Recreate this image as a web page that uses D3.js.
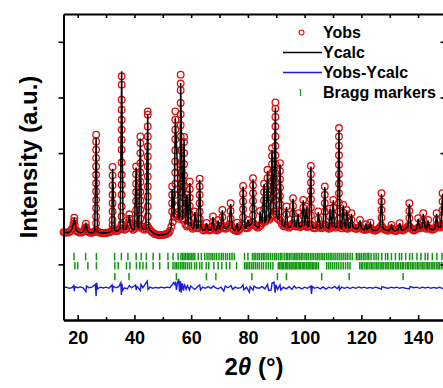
<!DOCTYPE html>
<html>
<head>
<meta charset="utf-8">
<script src="https://cdn.jsdelivr.net/npm/d3@7"></script>
<style>
  body { margin: 0; background: #fff; }
  svg { display: block; }
  text { font-family: "Liberation Sans", Arial, sans-serif; font-weight: bold; }
</style>
</head>
<body>
<div id="chart"></div>
<script>
// ---- data ----
// observed intensity between the sharp reflections, one value every 0.5 deg from 15
const scanStart = 15, scanStep = 0.5;
const valleyObs = [
  1580, 1570, 1575, 1570, 1580, 1600, 1640, 1720, 1700, 1610,
  1585, 1575, 1570, 1575, 1590, 1650, 1640, 1590, 1575, 1570,
  1570, 1575, 1590, 1620, 1590, 1575, 1570, 1565, 1565, 1570,
  1565, 1570, 1575, 1580, 1600, 1640, 1620, 1600, 1600, 1620,
  1650, 1700, 1640, 1620, 1640, 1700, 1760, 1720, 1650, 1620,
  1640, 1700, 1680, 1660, 1700, 1680, 1640, 1620, 1640, 1700,
  1660, 1620, 1590, 1570, 1550, 1540, 1535, 1530, 1530, 1530,
  1530, 1535, 1540, 1550, 1565, 1600, 1680, 1760, 1850, 1900,
  1880, 1820, 1850, 1880, 1800, 1820, 1720, 1680, 1700, 1760,
  1680, 1640, 1660, 1700, 1650, 1660, 1720, 1660, 1620, 1610,
  1630, 1660, 1620, 1610, 1620, 1680, 1650, 1620, 1610, 1620,
  1640, 1680, 1700, 1660, 1640, 1650, 1680, 1720, 1700, 1650,
  1620, 1610, 1600, 1600, 1620, 1660, 1720, 1700, 1660, 1650,
  1660, 1690, 1720, 1760, 1740, 1700, 1680, 1660, 1680, 1700,
  1740, 1780, 1760, 1800, 1820, 1800, 1840, 1880, 1900, 1950,
  1900, 1820, 1800, 1780, 1720, 1690, 1680, 1700, 1680, 1660,
  1680, 1720, 1740, 1700, 1680, 1700, 1680, 1670, 1690, 1720,
  1700, 1680, 1670, 1690, 1720, 1700, 1660, 1650, 1660, 1700,
  1690, 1660, 1650, 1680, 1720, 1690, 1660, 1640, 1650, 1680,
  1700, 1680, 1660, 1680, 1720, 1680, 1650, 1680, 1700, 1660,
  1640, 1650, 1670, 1690, 1670, 1650, 1640, 1640, 1660, 1680,
  1650, 1630, 1620, 1620, 1630, 1650, 1660, 1640, 1620, 1610,
  1610, 1620, 1640, 1670, 1700, 1660, 1630, 1620, 1610, 1610,
  1620, 1650, 1630, 1610, 1600, 1610, 1630, 1650, 1630, 1610,
  1620, 1640, 1660, 1690, 1680, 1650, 1620, 1610, 1620, 1640,
  1660, 1650, 1660, 1690, 1680, 1650, 1640, 1660, 1650, 1630,
  1620, 1630, 1660, 1700, 1680, 1660, 1680, 1720, 1690, 1660,
  1650
];

// sharp reflections: position, calculated top, observed points on the peak
const peakPos = [
  18.8, 22.9, 26.5, 32.3, 35.5, 38.2, 40.6, 42.1, 44.7, 53.3,
  54.4, 55.2, 56.3, 57.5, 58.5, 59.5, 61.3, 63.0, 65.4, 67.7,
  69.5, 71.0, 73.9, 76.2, 78.3, 80.0, 81.8, 84.3, 85.7, 86.9,
  88.5, 89.7, 91.3, 93.6, 95.9, 97.7, 99.5, 100.7, 102.2, 104.8,
  107.1, 108.9, 110.1, 112.1, 113.6, 114.8, 116.5, 119.5, 121.6, 123.2,
  127.1, 130.6, 133.5, 136.9, 140.0, 141.8, 143.5, 146.5, 148.6
];
const peakCalc = [
  1830, 1720, 3280, 2720, 4470, 1880, 2740, 3260, 3700, 2350,
  3640, 2700, 4260, 3250, 2250, 2460, 1940, 2520, 1740, 1850,
  1790, 1970, 2090, 1740, 2400, 1800, 2530, 1950, 2440, 2680,
  3060, 3820, 2800, 2030, 2180, 1910, 2150, 2030, 2760, 1940,
  2390, 1990, 2150, 3420, 2060, 1970, 1910, 1790, 1720, 1740,
  2270, 1700, 1740, 2090, 1820, 1910, 1790, 1910, 2270
];
const peakObs = [
  [1840, 1780],
  [1730, 1670],
  [3330, 3210, 3060, 2910, 2760, 2610, 2460, 2310, 2160, 2010, 1860, 1740],
  [2750, 2600, 2420, 2250, 2100, 1950, 1800, 1700],
  [4380, 4230, 3960, 3780, 3600, 3420, 3240, 3060, 2830, 2610, 2430, 2250, 2040, 1860, 1720],
  [1900, 1820],
  [2760, 2620, 2450, 2300, 2140, 1980, 1830, 1720],
  [3300, 3180, 3000, 2820, 2650, 2480, 2300, 2150, 1980, 1820],
  [3750, 3690, 3480, 3300, 3120, 2940, 2760, 2580, 2400, 2220, 2040, 1860],
  [2400, 2250, 2100, 1950],
  [3750, 3600, 3420, 3250, 3050, 2850, 2650, 2450, 2250, 2050],
  [2750, 2550, 2350],
  [4410, 4250, 4130, 3900, 3700, 3500, 3300, 3050, 2800, 2550, 2300, 2100],
  [3290, 3200, 3000, 2800, 2600, 2400, 2200, 2000],
  [2250, 2100, 1950],
  [2490, 2350, 2200, 2050, 1900],
  [1950, 1830],
  [2540, 2400, 2250, 2100, 1950, 1820],
  [1745],
  [1860, 1760],
  [1800],
  [1980, 1850],
  [2100, 1960, 1820],
  [1750],
  [2410, 2270, 2130, 1990, 1850],
  [1800],
  [2550, 2420, 2280, 2140, 2000, 1880],
  [1960],
  [2450, 2300, 2150, 2000],
  [2700, 2550, 2400, 2250, 2100],
  [3090, 2950, 2800, 2650, 2500, 2350, 2200, 2050],
  [3910, 3800, 3650, 3480, 3300, 3130, 2960, 2800, 2640, 2480, 2320, 2160],
  [2820, 2680, 2530, 2380, 2230, 2080, 1950],
  [2040, 1900],
  [2190, 2050, 1910],
  [1920],
  [2160, 2020, 1880],
  [2040, 1900],
  [2770, 2620, 2470, 2320, 2170, 2020, 1880],
  [1950, 1820],
  [2400, 2250, 2100, 1950],
  [2000, 1860],
  [2160, 2020, 1880],
  [3450, 3300, 3130, 2960, 2790, 2620, 2450, 2280, 2110, 1950, 1820],
  [2070, 1930],
  [1980, 1850],
  [1920, 1800],
  [1800],
  [1720],
  [1750],
  [2280, 2130, 1980, 1840],
  [1710],
  [1740],
  [2100, 1960, 1830],
  [1830],
  [1920, 1800],
  [1800],
  [1920, 1800],
  [2280, 2130, 1980, 1840]
];

// Yobs - Ycalc  [2theta, difference]
const diffPts = [
  [15, 0], [16, 10], [17, -10], [18, 0], [18.6, 40], [18.8, -60], [19, 20], [20, 0], [21, 15], [22, -5],
  [22.9, -70], [23.1, 30], [24, 0], [25, 10], [26.2, 60], [26.5, -150], [26.7, 90], [27, -20], [28, 10], [29, -5],
  [30, 10], [31, -10], [32.1, 50], [32.3, -80], [32.5, 30], [33.5, 0], [34.5, 20], [35.2, 90], [35.4, -130], [35.6, 70],
  [35.8, -50], [36.5, 0], [37.5, -20], [38.2, 40], [39, 0], [40.4, 50], [40.6, -40], [41, 20], [42.1, -50], [42.3, 60],
  [43, 0], [44.5, 120], [44.8, -30], [45.5, 10], [46.5, -10], [47.5, 5], [48.5, -5], [49.5, 10], [50.5, -5], [51.5, 10],
  [52.5, 0], [53.3, 50], [53.8, 90], [54.2, 60], [54.5, 110], [54.8, -40], [55.2, 90], [55.6, 160], [55.9, -70], [56.2, 120],
  [56.5, -90], [56.8, 80], [57.3, -50], [57.6, 70], [58.2, -30], [58.7, 40], [59.4, -40], [59.8, 30], [60.5, 0], [61.3, -30],
  [62, 10], [63, 50], [63.3, -40], [64, 10], [65, -10], [66, 20], [67, -10], [67.8, 30], [68.5, 0], [69.5, -20],
  [70.5, 10], [71.5, -60], [72, 30], [73, 0], [74, 40], [74.6, -30], [75.5, 10], [76.5, -10], [77.5, 0], [78.3, 50],
  [78.6, -40], [79.5, 10], [80.5, -80], [80.8, 20], [81.8, -40], [82.2, 30], [83, 0], [84, -10], [85, 20], [86, -20],
  [86.9, 60], [87.3, -50], [88.2, -40], [88.5, 80], [89.2, 100], [89.6, -90], [89.9, 50], [90.5, -30], [91.3, 50], [91.6, -40],
  [92.5, 10], [93.5, -20], [94.5, 20], [95.5, -30], [96.3, 30], [97, -10], [98, 10], [99, -20], [100, 10], [101, -10],
  [102.2, 30], [102.4, -110], [102.7, 20], [103.5, -10], [104.5, 10], [105.5, -20], [106.5, 15], [107.5, -25], [108.5, 10], [109.5, -10],
  [110.5, 20], [111.5, -15], [112.1, 30], [112.3, -40], [113, 10], [114, -10], [115, 10], [116, -15], [117, 10], [118, -10],
  [119, 15], [120, -5], [121, 10], [122, -10], [123, 5], [124, -10], [125, 10], [126, -5], [127, -25], [127.3, 20],
  [128.5, 0], [129.5, -10], [130.5, 10], [131.5, -5], [132.5, 10], [133.5, -10], [134.5, 5], [135.5, -10], [136.9, -20], [137.2, 20],
  [138.5, 0], [139.5, 10], [140.5, -10], [141.5, 10], [142.5, -5], [143.5, 10], [144.5, -10], [145.5, 5], [146.5, -10], [147.5, 10],
  [148.6, -15], [149.5, 5], [150, 0]
];

// Bragg reflection positions of the three phases
const braggPhase1 = [
  18.7, 22.8, 26.6, 33.0, 35.4, 37.7, 40.6, 42.4, 44.2, 46.6, 48.9, 51.8, 53.6, 55.4,
  56.4, 57.0, 57.5, 58.0, 58.6, 59.1, 59.6, 60.2, 60.7, 61.3, 62.5, 63.6, 64.8, 65.6, 66.3,
  67.0, 67.6, 68.3, 69.0, 69.8, 70.6, 71.3, 72.1, 72.8, 73.6, 74.4, 75.2,
  78.8, 80.0, 81.6, 82.2, 82.8, 83.5, 84.1, 84.8, 85.4, 86.0, 86.7, 87.3, 88.0, 88.7, 89.4,
  90.0, 90.7, 91.4, 92.0, 92.8, 93.5, 94.0, 94.6, 95.2, 95.9, 96.5, 97.0, 97.6, 98.2, 98.8,
  99.4, 100.1, 100.7, 101.3, 102.0, 102.6, 103.2, 103.9, 104.5, 105.1, 105.8, 106.4, 107.0,
  107.7, 108.3, 109.0, 109.6, 110.3, 111.0, 111.7, 112.4, 113.1, 113.8, 114.5, 115.2, 116.0, 116.8,
  118.2, 118.8, 119.4, 120.0, 120.7, 121.3, 122.0, 122.6, 123.4, 124.4, 125.2, 126.0, 127.2,
  128.5, 129.3, 130.6, 132.0, 133.4, 134.2, 135.6, 137.0, 138.0, 139.6, 141.0, 142.5, 143.4,
  145.0, 146.6, 148.4, 149.6
];
const braggPhase2 = [
  19.0, 20.0, 23.6, 26.6, 33.1, 34.3, 37.2, 38.4, 40.7, 41.9, 43.0, 44.2, 46.6, 48.9, 51.9,
  53.6, 54.3, 54.9, 55.5, 56.2, 56.8, 57.4, 58.0, 58.7, 59.4, 60.1, 61.2, 61.9, 63.0, 63.8,
  65.3, 66.2, 68.0, 69.5, 70.8, 72.4, 73.6, 76.0, 78.8, 79.4, 80.0, 80.6, 81.3, 81.9, 82.6,
  83.3, 84.0, 84.8, 85.5, 86.4, 87.2, 88.0, 88.8, 90.7, 91.2, 91.7, 92.2, 92.6, 93.2, 93.7,
  94.1, 94.7, 95.2, 95.6, 96.2, 96.7, 97.1, 97.7, 98.2, 98.6, 99.2, 99.7, 100.1, 100.7, 101.2,
  101.6, 102.2, 102.7, 103.1, 103.7, 104.2, 104.8, 107.8, 108.5, 109.2, 109.9, 110.6, 111.3,
  112.0, 112.8, 113.6, 114.4, 115.2, 116.0, 119.4, 120.0, 120.5, 121.2, 121.8, 122.3, 123.0,
  123.6, 124.1, 124.8, 125.4, 125.9, 126.6, 127.2, 127.7, 128.4, 129.0, 129.5, 130.2, 130.8,
  131.3, 132.0, 132.6, 133.1, 133.8, 134.4, 134.9, 135.6, 136.2, 136.7, 137.4, 138.0, 138.5,
  139.2, 139.8, 140.3, 141.0, 141.6, 142.1, 142.8, 143.4, 143.9, 144.6, 145.2, 145.7, 146.4,
  147.0, 147.5, 148.2, 148.8, 149.4
];
const braggPhase3 = [33.1, 38.1, 54.8, 65.4, 68.7, 81.4, 90.4, 93.6, 106.0, 115.7, 134.7];

const xMajorTicks = [20, 40, 60, 80, 100, 120, 140];
const xMinorTicks = [30, 50, 70, 90, 110, 130, 150];
const yTicks = [1000, 2000, 3000, 4000, 5000];
const legendLabels = ['Yobs', 'Ycalc', 'Yobs-Ycalc', 'Bragg markers'];

// ---- layout ----
const cfg = {
  width: 443, height: 388,
  left: 63.5, right: 446.5, top: 14, bottom: 320,
  diffOffset: 580,
  braggLevels: [1140, 975, 780],
  braggHalf: 3.7,
  red: '#dc1010', blue: '#1b1bdc', green: '#0f960f'
};

const svg = d3.select('#chart')
  .append('svg')
  .attr('width', cfg.width)
  .attr('height', cfg.height)
  .attr('viewBox', [0, 0, cfg.width, cfg.height]);

const x = d3.scaleLinear([15, 150], [cfg.left, cfg.right]);
const y = d3.scaleLinear([0, 5500], [cfg.bottom, cfg.top]);

// observed points: valley scan + stacks on the reflections
const obsPoints = valleyObs.map((v, i) => [scanStart + i * scanStep, v]);
peakPos.forEach((p, i) => peakObs[i].forEach(v => obsPoints.push([p, v])));

// calculated curve: valley scan away from reflections + reflection tops
const calcPoints = valleyObs
  .map((v, i) => [scanStart + i * scanStep, v])
  .filter(d => !peakPos.some(p => Math.abs(p - d[0]) < 0.26));
peakPos.forEach((p, i) => calcPoints.push([p, peakCalc[i]]));
calcPoints.sort((a, b) => a[0] - b[0]);

const plot = svg.append('g').attr('class', 'plot');

plot.append('g')
  .attr('class', 'yobs')
  .selectAll('circle')
  .data(obsPoints)
  .join('circle')
  .attr('cx', d => x(d[0]))
  .attr('cy', d => y(d[1]))
  .attr('r', 3.3)
  .style('fill', 'none')
  .style('stroke', cfg.red)
  .style('stroke-width', 1.3);

const line = d3.line()
  .x(d => x(d[0]))
  .y(d => y(d[1]));

plot.append('path')
  .attr('class', 'ycalc')
  .datum(calcPoints)
  .attr('d', line)
  .style('fill', 'none')
  .style('stroke', '#000')
  .style('stroke-width', 1.5);

plot.append('path')
  .attr('class', 'diff')
  .datum(diffPts)
  .attr('d', d3.line().x(d => x(d[0])).y(d => y(d[1] + cfg.diffOffset)))
  .style('fill', 'none')
  .style('stroke', cfg.blue)
  .style('stroke-width', 1.4);

const bragg = plot.append('g').attr('class', 'bragg');
[braggPhase1, braggPhase2, braggPhase3].forEach((phase, k) => {
  bragg.append('g')
    .selectAll('line')
    .data(phase)
    .join('line')
    .attr('x1', d => x(d))
    .attr('x2', d => x(d))
    .attr('y1', y(cfg.braggLevels[k]) - cfg.braggHalf)
    .attr('y2', y(cfg.braggLevels[k]) + cfg.braggHalf)
    .style('stroke', cfg.green)
    .style('stroke-width', 1.5);
});

// ---- axes ----
function styleAxis(g) {
  g.select('.domain').style('stroke', '#000').style('stroke-width', 2);
  g.selectAll('.tick line').style('stroke', '#000').style('stroke-width', 1.6);
  g.selectAll('.tick text').style('font-size', '18px').style('fill', '#000');
}

svg.append('g')
  .attr('transform', `translate(0, ${cfg.bottom})`)
  .call(d3.axisBottom(x).tickValues(xMajorTicks).tickSize(-5).tickSizeOuter(0).tickPadding(11))
  .call(styleAxis);
svg.append('g')
  .attr('transform', `translate(0, ${cfg.bottom})`)
  .call(d3.axisBottom(x).tickValues(xMinorTicks).tickSize(-3).tickSizeOuter(0).tickFormat(''))
  .call(styleAxis);
svg.append('g')
  .attr('transform', `translate(0, ${cfg.top})`)
  .call(d3.axisTop(x).tickValues(xMajorTicks.concat(xMinorTicks)).tickSize(-4).tickSizeOuter(0).tickFormat(''))
  .call(styleAxis);
svg.append('g')
  .attr('transform', `translate(${cfg.left}, 0)`)
  .call(d3.axisLeft(y).tickValues(yTicks).tickSize(5).tickSizeOuter(0).tickFormat(''))
  .call(styleAxis);
svg.append('g')
  .attr('transform', `translate(${cfg.right}, 0)`)
  .call(d3.axisRight(y).tickValues(yTicks).tickSize(-6).tickSizeOuter(0).tickFormat(''))
  .call(styleAxis);

// ---- axis titles ----
svg.append('text')
  .attr('transform', 'translate(37, 157) rotate(-90)')
  .attr('text-anchor', 'middle')
  .style('font-size', '24px')
  .text('Intensity (a.u.)');

const xt = svg.append('text')
  .attr('x', 254)
  .attr('y', 375)
  .attr('text-anchor', 'middle')
  .style('font-size', '24px');
xt.append('tspan').text('2');
xt.append('tspan').style('font-style', 'italic').text('\u03B8');
xt.append('tspan').text(' (\u00B0)');

// ---- legend ----
const legend = svg.append('g').attr('class', 'legend');
const rowY = d => 32.5 + d * 20;
legend.selectAll('text')
  .data(legendLabels)
  .join('text')
  .attr('x', 323)
  .attr('y', (d, i) => rowY(i) + 5.5)
  .style('font-size', '16px')
  .text(d => d);
legend.append('circle')
  .attr('cx', 301.5).attr('cy', rowY(0)).attr('r', 2.5)
  .style('fill', 'none').style('stroke', cfg.red).style('stroke-width', 1.1);
legend.append('line')
  .attr('x1', 283).attr('x2', 322).attr('y1', rowY(1)).attr('y2', rowY(1))
  .style('stroke', '#000').style('stroke-width', 1.5);
legend.append('line')
  .attr('x1', 283).attr('x2', 322).attr('y1', rowY(2)).attr('y2', rowY(2))
  .style('stroke', cfg.blue).style('stroke-width', 1.3);
legend.append('line')
  .attr('x1', 300.5).attr('x2', 300.5).attr('y1', rowY(3) - 3.5).attr('y2', rowY(3) + 3.5)
  .style('stroke', cfg.green).style('stroke-width', 1.3);
</script>
</body>
</html>
